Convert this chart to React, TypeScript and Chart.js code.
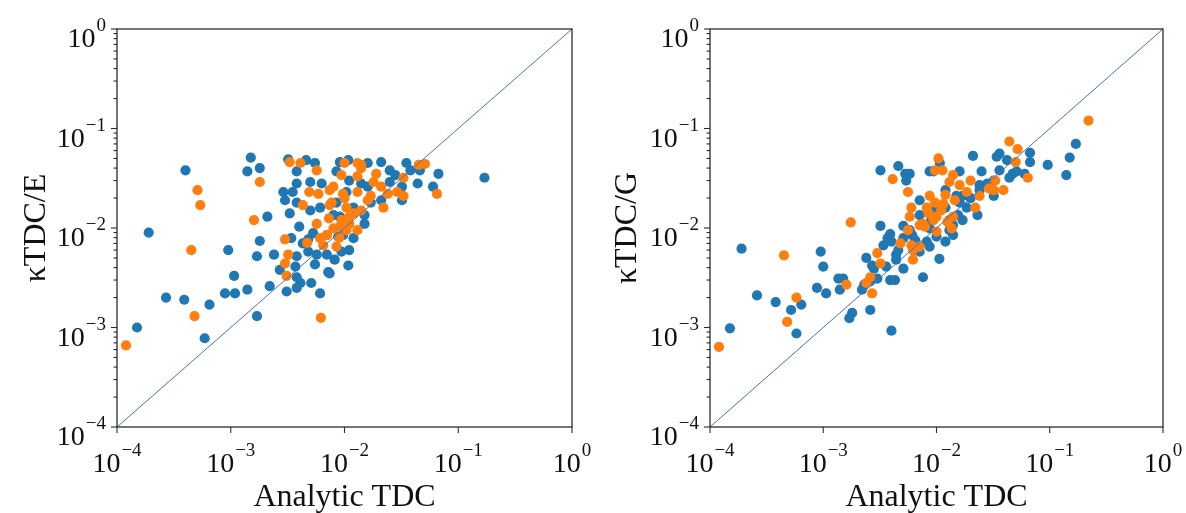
import React, { useEffect, useRef } from 'react';
import { Chart, registerables } from 'chart.js';

Chart.register(...registerables);

// ---- axis / tick definitions ----
const AXIS_MIN = 1e-4;
const AXIS_MAX = 1;
const decades = [1e-4, 1e-3, 1e-2, 1e-1, 1];
const decadeExponents = ['\u22124', '\u22123', '\u22122', '\u22121', '0'];
const minorMultipliers = [2, 3, 4, 5, 6, 7, 8, 9];
const xTitle = 'Analytic TDC';
const leftYTitle = '\u03baTDC/E';
const rightYTitle = '\u03baTDC/G';
const diagonal = [1e-4, 1];

// ---- left panel (κTDC/E vs Analytic TDC) ----
const leftBlue: [number, number][] = [
  [1.5e-3, 5.1e-2], [1.4e-3, 3.7e-2], [1.8e-3, 4.0e-2], [4.0e-4, 3.8e-2], [1.9e-4, 9.0e-3],
  [2.1e-3, 1.3e-2], [3.3e-3, 1.4e-2], [1.8e-3, 7.4e-3], [1.7e-3, 5.2e-3], [2.4e-3, 5.4e-3],
  [9.5e-4, 6.0e-3], [1.07e-3, 3.3e-3], [8.9e-4, 2.2e-3], [1.09e-3, 2.2e-3], [1.4e-3, 2.4e-3],
  [2.2e-3, 2.6e-3], [3.1e-3, 2.3e-3], [2.7e-4, 2.0e-3], [3.9e-4, 1.9e-3], [6.5e-4, 1.7e-3],
  [1.7e-3, 1.3e-3], [1.5e-4, 1.0e-3], [5.9e-4, 7.8e-4], [3.2e-3, 4.9e-2], [4.6e-3, 4.8e-2],
  [5.5e-3, 4.5e-2], [3.8e-3, 3.7e-2], [3.8e-3, 2.8e-2], [5.0e-3, 2.9e-2], [6.3e-3, 2.8e-2],
  [2.9e-3, 2.3e-2], [3.5e-3, 2.3e-2], [3.0e-3, 1.9e-2], [4.0e-3, 1.03e-2], [3.4e-3, 7.9e-3],
  [4.8e-3, 7.7e-3], [4.3e-3, 7.0e-3], [3.8e-3, 5.2e-3], [5.5e-3, 4.3e-3], [7.2e-3, 3.6e-3],
  [3.7e-3, 4.1e-3], [3.8e-3, 3.2e-3], [4.1e-3, 2.8e-3], [5.1e-3, 2.8e-3], [6.1e-3, 2.2e-3],
  [7.0e-3, 5.4e-3], [8.5e-3, 3.7e-2], [0.17, 3.2e-2], [6.7e-2, 3.5e-2], [4.4e-2, 2.8e-2],
  [6.0e-2, 2.6e-2], [3.5e-2, 4.5e-2], [2.1e-2, 4.6e-2], [1.6e-2, 4.5e-2], [2.5e-2, 3.8e-2],
  [2.5e-2, 2.9e-2], [3.2e-2, 1.9e-2], [1.6e-2, 2.6e-2], [9.1e-3, 4.6e-2], [1.08e-2, 4.8e-2],
  [1.2e-2, 1.6e-2], [1.5e-2, 1.1e-2], [1.2e-2, 7.9e-3], [1.08e-2, 4.2e-3], [7.4e-3, 3.5e-3],
  [8.8e-3, 8.2e-3], [1.7e-2, 1.8e-2], [3.8e-2, 3.8e-2], [3.2e-2, 2.6e-2], [1.4e-2, 2.8e-2],
  [1.1e-2, 3.0e-2], [1.04e-2, 2.3e-2], [3.8e-3, 1.8e-2], [5.0e-3, 1.5e-2], [6.1e-3, 1.6e-2],
  [8.5e-3, 1.8e-2], [9.1e-3, 1.3e-2], [5.3e-3, 8.9e-3], [7.0e-3, 8.5e-3], [4.8e-3, 5.8e-3],
  [5.7e-3, 5.4e-3], [9.4e-3, 5.8e-3], [2.7e-3, 3.8e-3], [8.0e-3, 1.35e-2], [9.7e-3, 8.5e-3],
  [3.8e-3, 2.5e-3], [2.1e-2, 1.9e-2], [2.8e-2, 3.4e-2], [4.6e-2, 3.8e-2], [1.5e-2, 1.35e-2],
  [1.1e-2, 6.0e-3], [8.2e-3, 4.8e-3],
];

const leftOrange: [number, number][] = [
  [5.1e-4, 2.4e-2], [5.4e-4, 1.7e-2], [4.5e-4, 6.0e-3], [4.8e-4, 1.3e-3], [1.2e-4, 6.6e-4],
  [1.8e-3, 2.9e-2], [1.6e-3, 1.2e-2], [3.3e-3, 4.6e-2], [4.1e-3, 4.5e-2], [5.7e-3, 3.8e-2],
  [4.9e-3, 2.3e-2], [5.9e-3, 2.2e-2], [4.3e-3, 1.7e-2], [3.0e-3, 7.7e-3], [3.2e-3, 5.4e-3],
  [3.0e-3, 4.4e-3], [3.1e-3, 3.3e-3], [4.7e-3, 7.1e-3], [6.2e-3, 1.25e-3], [7.4e-3, 2.4e-2],
  [7.4e-3, 1.7e-2], [5.7e-3, 1.1e-2], [7.3e-3, 1.25e-2], [8.0e-3, 9.9e-3], [6.1e-3, 7.9e-3],
  [8.5e-3, 6.5e-3], [5.1e-2, 4.4e-2], [4.5e-2, 4.3e-2], [6.5e-2, 2.2e-2], [3.3e-2, 3.2e-2],
  [2.9e-2, 2.3e-2], [2.2e-2, 1.6e-2], [1.9e-2, 3.5e-2], [1.4e-2, 4.3e-2], [1.0e-2, 4.5e-2],
  [1.3e-2, 3.3e-2], [9.7e-3, 2.2e-2], [1.3e-2, 2.3e-2], [1.7e-2, 2.1e-2], [1.4e-2, 1.5e-2],
  [1.1e-2, 1.3e-2], [1.3e-2, 9.5e-3], [9.1e-3, 1.03e-2], [7.7e-3, 1.8e-2], [9.4e-3, 3.4e-2],
  [1.8e-2, 2.9e-2], [2.1e-2, 2.6e-2], [3.3e-2, 2.1e-2], [8.0e-3, 2.6e-2], [1.04e-2, 1.6e-2],
  [9.4e-3, 1.2e-2], [1.04e-2, 9.5e-3], [7.0e-3, 8.5e-3], [6.5e-3, 6.7e-3], [1.3e-2, 4.5e-2],
  [1.4e-2, 4.0e-2], [1.1e-2, 1.1e-2], [1.2e-2, 1.4e-2], [1.6e-2, 1.9e-2], [2.4e-2, 2.2e-2],
  [9.0e-3, 8.0e-3], [1.0e-2, 2.0e-2],
];

// ---- right panel (κTDC/G vs Analytic TDC) ----
const rightBlue: [number, number][] = [
  [3.2e-3, 3.8e-2], [4.6e-3, 4.2e-2], [5.3e-3, 3.5e-2], [5.8e-3, 3.5e-2], [5.4e-3, 3.0e-2],
  [7.1e-3, 1.9e-2], [8.7e-3, 3.7e-2], [3.2e-3, 1.05e-2], [3.9e-3, 8.7e-3], [5.1e-3, 1.05e-2],
  [4.0e-3, 7.3e-3], [3.4e-3, 6.7e-3], [2.4e-3, 5.0e-3], [2.7e-3, 4.2e-3], [3.6e-3, 4.1e-3],
  [4.4e-3, 4.8e-3], [5.1e-3, 3.9e-3], [7.6e-3, 3.2e-3], [3.0e-3, 3.1e-3], [2.3e-3, 2.7e-3],
  [2.6e-3, 2.9e-3], [3.9e-3, 3.0e-3], [1.9e-4, 6.2e-3], [9.5e-4, 5.8e-3], [1.0e-3, 4.1e-3],
  [1.36e-3, 3.1e-3], [1.5e-3, 3.1e-3], [8.8e-4, 2.5e-3], [1.06e-3, 2.2e-3], [1.4e-3, 2.4e-3],
  [2.6e-4, 2.1e-3], [3.8e-4, 1.8e-3], [5.2e-4, 1.5e-3], [6.4e-4, 1.7e-3], [1.8e-3, 1.4e-3],
  [1.7e-3, 1.24e-3], [2.6e-3, 1.5e-3], [1.5e-4, 9.8e-4], [5.8e-4, 8.7e-4], [4.0e-3, 9.3e-4],
  [2.2e-3, 2.4e-3], [0.17, 7.0e-2], [0.15, 5.1e-2], [0.14, 3.4e-2], [9.6e-2, 4.3e-2],
  [6.7e-2, 5.7e-2], [6.7e-2, 4.6e-2], [6.0e-2, 3.5e-2], [4.4e-2, 3.2e-2], [4.7e-2, 3.5e-2],
  [3.6e-2, 5.6e-2], [3.4e-2, 5.2e-2], [4.2e-2, 4.8e-2], [3.6e-2, 3.8e-2], [2.1e-2, 5.3e-2],
  [2.5e-2, 3.7e-2], [1.6e-2, 3.7e-2], [9.4e-3, 3.7e-2], [1.07e-2, 4.5e-2], [1.2e-2, 2.4e-2],
  [2.4e-2, 2.7e-2], [3.2e-2, 2.1e-2], [1.7e-2, 2.1e-2], [1.85e-2, 1.6e-2], [2.3e-2, 1.35e-2],
  [1.4e-2, 1.07e-2], [1.4e-2, 8.5e-3], [1.2e-2, 7.3e-3], [8.2e-3, 7.3e-3], [1.06e-2, 4.9e-3],
  [8.7e-3, 6.5e-3], [7.1e-3, 5.8e-3], [6.1e-3, 8.5e-3], [6.4e-3, 6.0e-3], [7.9e-3, 1.07e-2],
  [9.7e-3, 1.5e-2], [4.6e-3, 6.0e-3], [3.7e-3, 7.9e-3], [4.4e-3, 5.4e-3], [2.8e-3, 3.9e-3],
  [4.3e-3, 3.0e-3], [1.0e-2, 8.2e-3], [1.3e-2, 9.5e-3], [1.55e-2, 1.35e-2], [1.7e-2, 1.2e-2],
  [1.2e-2, 1.6e-2], [2.0e-2, 2.0e-2], [2.4e-2, 2.4e-2], [2.8e-2, 2.8e-2], [3.2e-2, 3.0e-2],
  [5.1e-2, 3.7e-2], [1.5e-2, 2.1e-2], [7.1e-3, 1.35e-2], [8.7e-3, 9.9e-3], [5.8e-3, 9.5e-3],
  [5.1e-3, 7.9e-3], [9.0e-3, 1.2e-2], [1.3e-2, 1.2e-2], [6.5e-3, 7.5e-3], [1.6e-2, 1.8e-2],
];

const rightOrange: [number, number][] = [
  [4.1e-3, 3.1e-2], [5.6e-3, 2.3e-2], [6.0e-3, 1.6e-2], [5.8e-3, 1.3e-2], [8.2e-3, 1.6e-2],
  [7.6e-3, 1.1e-2], [5.6e-3, 9.5e-3], [4.8e-3, 7.0e-3], [6.0e-3, 6.7e-3], [7.1e-3, 6.5e-3],
  [6.2e-3, 4.8e-3], [3.0e-3, 5.6e-3], [3.2e-3, 4.4e-3], [2.6e-3, 3.2e-3], [2.4e-3, 2.8e-3],
  [2.7e-3, 2.2e-3], [1.75e-3, 1.14e-2], [1.6e-3, 2.7e-3], [4.5e-4, 5.3e-3], [5.8e-4, 2.0e-3],
  [4.8e-4, 1.14e-3], [1.2e-4, 6.4e-4], [0.22, 0.12], [4.4e-2, 7.4e-2], [5.2e-2, 6.2e-2],
  [5.0e-2, 4.6e-2], [6.4e-2, 3.2e-2], [3.9e-2, 2.4e-2], [3.2e-2, 2.4e-2], [3.3e-2, 3.0e-2],
  [2.9e-2, 2.5e-2], [2.4e-2, 2.1e-2], [2.0e-2, 3.0e-2], [1.85e-2, 2.3e-2], [1.04e-2, 5.0e-2],
  [9.7e-3, 3.8e-2], [1.13e-2, 3.8e-2], [1.4e-2, 3.4e-2], [1.3e-2, 2.9e-2], [8.7e-3, 2.1e-2],
  [9.7e-3, 1.8e-2], [1.45e-2, 1.9e-2], [1.1e-2, 1.5e-2], [2.2e-2, 1.6e-2], [1.4e-2, 1.3e-2],
  [1.36e-2, 9.9e-3], [9.4e-3, 1.2e-2], [7.9e-3, 1.03e-2], [1.0e-2, 9.2e-3], [6.2e-3, 6.0e-3],
  [1.0e-2, 1.3e-2], [7.1e-3, 1.07e-2], [1.2e-2, 2.15e-2], [1.6e-2, 2.7e-2], [8.5e-3, 1.4e-2],
  [1.15e-2, 1.75e-2], [1.25e-2, 1.15e-2],
];

// ---- styling ----
const BLUE = '#1f77b4';
const ORANGE = '#ff7f0e';
const LINE_BLUE = '#4472c4';
const SERIF = '"Liberation Serif", "DejaVu Serif", "Times New Roman", serif';
const TICK_FONT = `28px ${SERIF}`;
const EXP_FONT = `19px ${SERIF}`;
const TITLE_FONT = `32px ${SERIF}`;
const TEXT_COLOR = '#111';
const POINT_RADIUS = 5.1;

type PanelProps = {
  blue: [number, number][];
  orange: [number, number][];
  yTitle: string;
  padding: { left: number; right: number; top: number; bottom: number };
  yTitleX: number;
};

function drawPower(ctx: CanvasRenderingContext2D, exp: string, x: number, baseY: number, align: 'center' | 'right') {
  ctx.font = TICK_FONT;
  const w1 = ctx.measureText('10').width;
  ctx.font = EXP_FONT;
  const w2 = ctx.measureText(exp).width;
  const total = w1 + 1 + w2;
  const start = align === 'center' ? x - total / 2 : x - total;
  ctx.textAlign = 'left';
  ctx.textBaseline = 'alphabetic';
  ctx.fillStyle = TEXT_COLOR;
  ctx.font = TICK_FONT;
  ctx.fillText('10', start, baseY);
  ctx.font = EXP_FONT;
  ctx.fillText(exp, start + w1 + 1, baseY - 16);
}

function makeAxesPlugin(yTitle: string, yTitleX: number) {
  return {
    id: 'mplAxes',
    afterDraw(chart: any) {
      const { ctx, chartArea: a, scales } = chart;
      const xs = scales.x;
      const ys = scales.y;
      ctx.save();
      const seg = (x1: number, y1: number, x2: number, y2: number) => {
        ctx.beginPath();
        ctx.moveTo(x1, y1);
        ctx.lineTo(x2, y2);
        ctx.stroke();
      };
      // frame
      ctx.strokeStyle = '#2b2b2b';
      ctx.lineWidth = 1.3;
      ctx.strokeRect(a.left, a.top, a.right - a.left, a.bottom - a.top);
      // ticks
      ctx.lineWidth = 1.1;
      decades.forEach((d, i) => {
        const py = ys.getPixelForValue(d);
        seg(a.left - 6, py, a.left, py);
        if (i < decades.length - 1) {
          minorMultipliers.forEach((m) => {
            const p = ys.getPixelForValue(m * d);
            seg(a.left - 3.5, p, a.left, p);
          });
        }
        const px = xs.getPixelForValue(d);
        seg(px, a.bottom, px, a.bottom + 6);
      });
      // tick labels
      decades.forEach((d, i) => {
        const py = ys.getPixelForValue(d);
        drawPower(ctx, decadeExponents[i], a.left - 11, py + 18, 'right');
        const px = xs.getPixelForValue(d);
        drawPower(ctx, decadeExponents[i], px, a.bottom + 45, 'center');
      });
      // titles
      ctx.fillStyle = TEXT_COLOR;
      ctx.font = TITLE_FONT;
      ctx.textAlign = 'center';
      ctx.textBaseline = 'alphabetic';
      ctx.fillText(xTitle, (a.left + a.right) / 2, a.bottom + 79);
      ctx.save();
      ctx.translate(yTitleX, (a.top + a.bottom) / 2);
      ctx.rotate(-Math.PI / 2);
      ctx.textBaseline = 'middle';
      ctx.fillText(yTitle, 0, 0);
      ctx.restore();
      ctx.restore();
    },
  };
}

function Panel({ blue, orange, yTitle, padding, yTitleX }: PanelProps) {
  const ref = useRef<HTMLCanvasElement | null>(null);
  useEffect(() => {
    if (!ref.current) return;
    const chart = new Chart(ref.current, {
      type: 'scatter',
      data: {
        datasets: [
          {
            type: 'line',
            data: diagonal.map((v) => ({ x: v, y: v })),
            borderColor: LINE_BLUE,
            borderWidth: 1,
            pointRadius: 0,
            fill: false,
            order: 0,
          } as any,
          {
            data: orange.map(([x, y]) => ({ x, y })),
            backgroundColor: ORANGE,
            borderWidth: 0,
            pointRadius: POINT_RADIUS,
            order: 1,
          },
          {
            data: blue.map(([x, y]) => ({ x, y })),
            backgroundColor: BLUE,
            borderWidth: 0,
            pointRadius: POINT_RADIUS,
            order: 2,
          },
        ],
      },
      options: {
        animation: false,
        responsive: false,
        maintainAspectRatio: false,
        events: [],
        layout: { padding },
        plugins: { legend: { display: false }, tooltip: { enabled: false } },
        scales: {
          x: { type: 'logarithmic', min: AXIS_MIN, max: AXIS_MAX, display: false },
          y: { type: 'logarithmic', min: AXIS_MIN, max: AXIS_MAX, display: false },
        },
      },
      plugins: [makeAxesPlugin(yTitle, yTitleX)],
    });
    return () => chart.destroy();
  }, [blue, orange, yTitle]);
  return <canvas ref={ref} width={593} height={513} style={{ display: 'block', width: 593, height: 513 }} />;
}

export default function App() {
  return (
    <div style={{ position: 'absolute', left: 0, top: 0, width: 1186, height: 513, background: '#fff' }}>
      <div style={{ position: 'absolute', left: 0, top: 0 }}>
        <Panel
          blue={leftBlue}
          orange={leftOrange}
          yTitle={leftYTitle}
          padding={{ left: 117, right: 21, top: 29, bottom: 86 }}
          yTitleX={37}
        />
      </div>
      <div style={{ position: 'absolute', left: 593, top: 0 }}>
        <Panel
          blue={rightBlue}
          orange={rightOrange}
          yTitle={rightYTitle}
          padding={{ left: 117, right: 23, top: 29, bottom: 86 }}
          yTitleX={35}
        />
      </div>
    </div>
  );
}
